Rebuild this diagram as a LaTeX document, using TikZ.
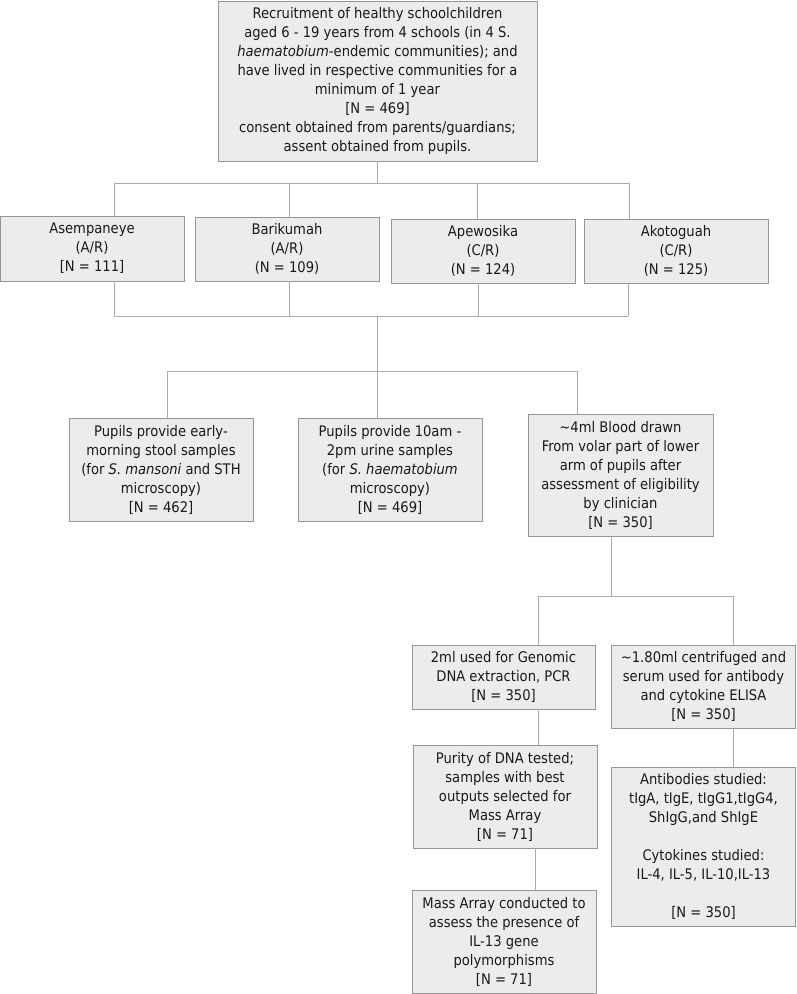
\documentclass[tikz,border=0pt]{standalone}
\usepackage{fontspec}
\setmainfont{DejaVu Sans Condensed}
\definecolor{boxfill}{RGB}{236,236,236}
\definecolor{boxline}{RGB}{150,150,150}
\definecolor{conn}{RGB}{170,170,170}
\begin{document}
\begin{tikzpicture}[x=1pt,y=-1pt,
  box/.style={draw=boxline,fill=boxfill,line width=0.9pt,align=center,inner sep=1pt,
    font=\fontsize{14.6}{19}\selectfont,text=black!90},
  link/.style={draw=conn,line width=0.9pt}]
\useasboundingbox (0,0) rectangle (796,994);

% nodes
\node[box,minimum width=319pt,minimum height=160pt] (top) at (377.5,81)
 {Recruitment of healthy schoolchildren\\aged 6 - 19 years from 4 schools (in 4 S.\\\textit{haematobium}-endemic communities); and\\have lived in respective communities for a\\minimum of 1 year\\{}[N = 469]\\consent obtained from parents/guardians;\\assent obtained from pupils.};

\node[box,minimum width=184pt,minimum height=65pt] (ase) at (92,248.5) {Asempaneye\\(A/R)\\{}[N = 111]};
\node[box,minimum width=184pt,minimum height=64pt] (bar) at (287,249) {Barikumah\\(A/R)\\(N = 109)};
\node[box,minimum width=184pt,minimum height=64pt] (ape) at (483,251) {Apewosika\\(C/R)\\(N = 124)};
\node[box,minimum width=184pt,minimum height=64pt] (ako) at (676,251) {Akotoguah\\(C/R)\\(N = 125)};

\node[box,minimum width=184pt,minimum height=103pt] (stool) at (161,469.5)
 {Pupils provide early-\\morning stool samples\\(for \textit{S. mansoni} and STH\\microscopy)\\{}[N = 462]};
\node[box,minimum width=184pt,minimum height=103pt] (urine) at (390,469.5)
 {Pupils provide 10am -\\2pm urine samples\\(for \textit{S. haematobium}\\microscopy)\\{}[N = 469]};
\node[box,minimum width=185pt,minimum height=122pt] (blood) at (620.5,475)
 {\textasciitilde4ml Blood drawn\\From volar part of lower\\arm of pupils after\\assessment of eligibility\\by clinician\\{}[N = 350]};

\node[box,minimum width=183pt,minimum height=64pt] (gen) at (503.5,677)
 {2ml used for Genomic\\DNA extraction, PCR\\{}[N = 350]};
\node[box,minimum width=184pt,minimum height=83pt] (serum) at (703.5,686.5)
 {\textasciitilde1.80ml centrifuged and\\serum used for antibody\\and cytokine ELISA\\{}[N = 350]};

\node[box,minimum width=184pt,minimum height=103pt] (purity) at (505,796.5)
 {Purity of DNA tested;\\samples with best\\outputs selected for\\Mass Array\\{}[N = 71]};
\node[box,minimum width=184pt,minimum height=159pt] (anti) at (703.5,846.5)
 {Antibodies studied:\\tIgA, tIgE, tIgG1,tIgG4,\\ShIgG,and ShIgE\\[19pt]Cytokines studied:\\IL-4, IL-5, IL-10,IL-13\\[19pt]{}[N = 350]};
\node[box,minimum width=184pt,minimum height=103pt] (mass) at (504,941.5)
 {Mass Array conducted to\\assess the presence of\\IL-13 gene\\polymorphisms\\{}[N = 71]};

% bus coordinates
\coordinate (b1a) at (114,183);
\coordinate (b1b) at (289,183);
\coordinate (b1c) at (477,183);
\coordinate (b1d) at (629,183);
\coordinate (b2a) at (114,316);
\coordinate (b2b) at (289,316);
\coordinate (b2c) at (478,316);
\coordinate (b2d) at (628,316);
\coordinate (b2m) at (377,316);
\coordinate (b3a) at (167,371);
\coordinate (b3m) at (377,371);
\coordinate (b3c) at (577,371);
\coordinate (b4a) at (538,596);
\coordinate (b4m) at (611,596);
\coordinate (b4c) at (733,596);
\coordinate (g1) at (538,0);
\coordinate (p1) at (535,0);

% connectors
\draw[link] (top.south) -- (top.south |- b1a);
\draw[link] (b1a) -- (b1d);
\draw[link] (b1a) -- (ase.north -| b1a);
\draw[link] (b1b) -- (bar.north -| b1b);
\draw[link] (b1c) -- (ape.north -| b1c);
\draw[link] (b1d) -- (ako.north -| b1d);

\draw[link] (ase.south -| b2a) -- (b2a);
\draw[link] (bar.south -| b2b) -- (b2b);
\draw[link] (ape.south -| b2c) -- (b2c);
\draw[link] (ako.south -| b2d) -- (b2d);
\draw[link] (b2a) -- (b2d);
\draw[link] (b2m) -- (b3m);
\draw[link] (b3a) -- (b3c);
\draw[link] (b3a) -- (stool.north -| b3a);
\draw[link] (b3m) -- (urine.north -| b3m);
\draw[link] (b3c) -- (blood.north -| b3c);

\draw[link] (blood.south -| b4m) -- (b4m);
\draw[link] (b4a) -- (b4c);
\draw[link] (b4a) -- (gen.north -| b4a);
\draw[link] (b4c) -- (serum.north -| b4c);
\draw[link] (gen.south -| g1) -- (purity.north -| g1);
\draw[link] (purity.south -| p1) -- (mass.north -| p1);
\draw[link] (serum.south -| b4c) -- (anti.north -| b4c);
\end{tikzpicture}
\end{document}
